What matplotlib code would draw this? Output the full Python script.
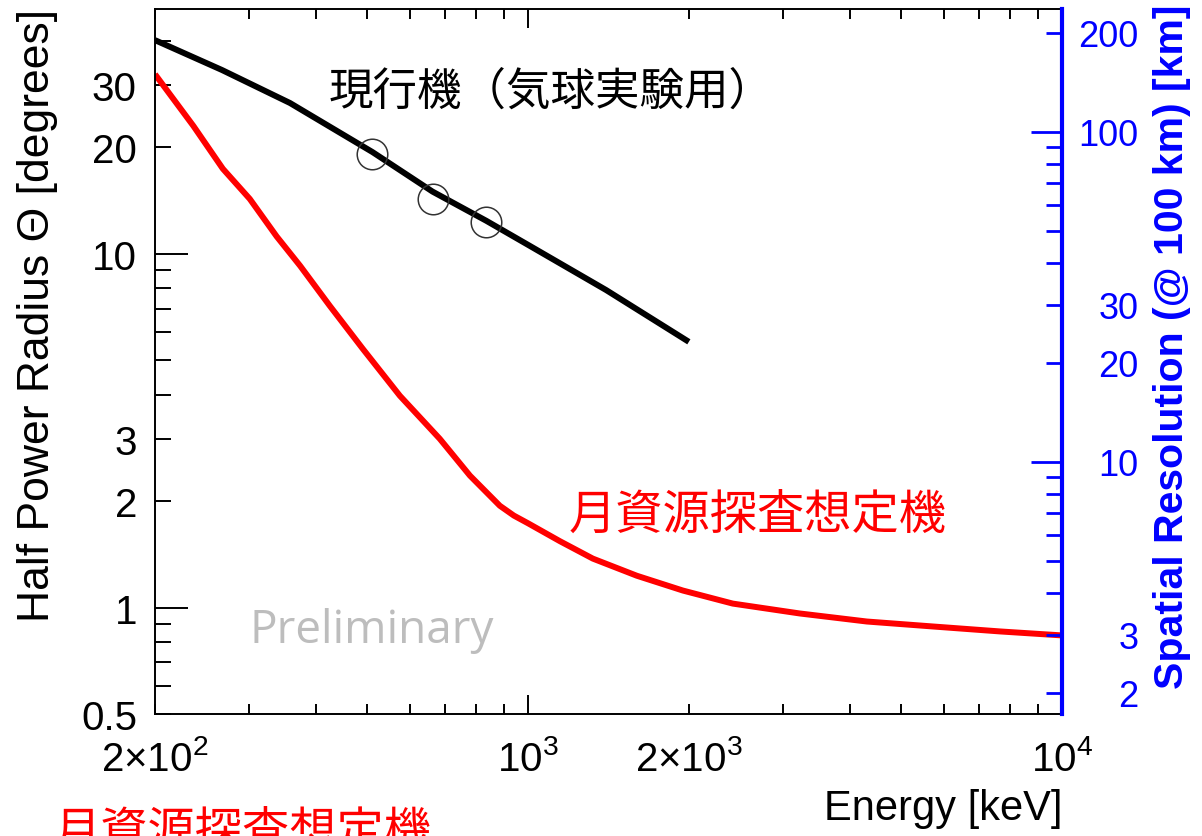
import numpy as np
import matplotlib
matplotlib.use('Agg')
import matplotlib.pyplot as plt
from matplotlib.ticker import LogLocator, FuncFormatter

plt.rcParams['font.family'] = ['Liberation Sans', 'DejaVu Sans']
plt.rcParams['mathtext.fontset'] = 'custom'
plt.rcParams['mathtext.rm'] = 'Liberation Sans'
plt.rcParams['mathtext.it'] = 'Liberation Sans:italic'
plt.rcParams['mathtext.bf'] = 'Liberation Sans:bold'

# current instrument (balloon experiment), energy in keV, HPR in degrees
energy_now = [200, 267, 358, 511, 662, 835, 1000, 1400, 2000]
hpr_now = [40.2, 33.1, 26.7, 19.4, 15.0, 12.4, 10.6, 7.9, 5.64]

# measured gamma lines
energy_meas = [511, 662, 835]
hpr_meas = [19.2, 14.3, 12.3]

# planned lunar resource instrument
energy_moon = [200, 236, 268, 301, 338, 374, 425, 490, 575, 683, 778, 885, 940, 1000,
               1147, 1322, 1598, 1949, 2417, 3228, 4309, 5728, 7645, 10000]
hpr_moon = [32.2, 23.0, 17.4, 14.3, 11.2, 9.25, 7.13, 5.39, 3.97, 3.00, 2.36, 1.94, 1.82, 1.73,
            1.54, 1.375, 1.23, 1.117, 1.026, 0.962, 0.913, 0.884, 0.856, 0.834]

# tick labels
x_labels = {200: r'$2{\times}10^{2}$', 1000: r'$10^{3}$', 2000: r'$2{\times}10^{3}$', 10000: r'$10^{4}$'}
y_labels = [0.5, 1, 2, 3, 10, 20, 30]
res_labels = [2, 3, 10, 20, 30, 100, 200]

W, H = 1202, 837


def fx(px):
    return px / W


def fy(py):
    return 1 - py / H


def pick(values, text=None):
    def f(v, pos):
        for t in values:
            if np.isclose(v, t, rtol=1e-6):
                if text is not None:
                    return text[t]
                return '%g' % t
        return ''
    return FuncFormatter(f)


fig = plt.figure(figsize=(W / 100, H / 100), dpi=100)
ax = fig.add_axes([fx(155), fy(715), fx(1062) - fx(155), fy(9.5) - fy(715)])

ax.plot(energy_now, hpr_now, color='black', lw=4.3, solid_capstyle='butt',
        solid_joinstyle='round')
ax.plot(energy_meas, hpr_meas, 'o', ms=22, mfc='none', mec='#333333', mew=1.1)
ax.plot(energy_moon, hpr_moon, color='red', lw=4.3, solid_capstyle='butt',
        solid_joinstyle='round')

ax.set_xscale('log')
ax.set_yscale('log')
ax.set_xlim(200, 10000)
ax.set_ylim(0.5, 49.4)

sub = np.arange(2, 10)
ax.xaxis.set_major_locator(LogLocator(base=10, numticks=20))
ax.xaxis.set_minor_locator(LogLocator(base=10, subs=sub, numticks=20))
ax.yaxis.set_major_locator(LogLocator(base=10, numticks=20))
ax.yaxis.set_minor_locator(LogLocator(base=10, subs=sub, numticks=20))
ax.xaxis.set_major_formatter(pick(list(x_labels), x_labels))
ax.xaxis.set_minor_formatter(pick(list(x_labels), x_labels))
ax.yaxis.set_major_formatter(pick(y_labels))
ax.yaxis.set_minor_formatter(pick(y_labels))

ax.tick_params(axis='y', which='major', direction='in', length=24, width=1.4,
               labelsize=29, pad=13, right=False)
ax.tick_params(axis='y', which='minor', direction='in', length=11.5, width=1.4,
               labelsize=29, pad=13, right=False)
ax.tick_params(axis='x', which='major', direction='in', length=14, width=1.4,
               labelsize=29, pad=18, top=True)
ax.tick_params(axis='x', which='minor', direction='in', length=7, width=1.4,
               labelsize=29, pad=18, top=True)
for s in ['left', 'bottom', 'top']:
    ax.spines[s].set_linewidth(1.4)
ax.spines['right'].set_visible(False)

# spatial resolution axis
ax2 = ax.twinx()
ax2.set_yscale('log')
ax2.set_ylim(1.723, 236.7)
ax2.yaxis.set_major_locator(LogLocator(base=10, numticks=20))
ax2.yaxis.set_minor_locator(LogLocator(base=10, subs=sub, numticks=20))
ax2.yaxis.set_major_formatter(pick(res_labels))
ax2.yaxis.set_minor_formatter(pick(res_labels))
ax2.tick_params(axis='y', which='major', direction='in', length=22, width=2,
                color='blue', labelcolor='blue', labelsize=26, pad=55)
ax2.tick_params(axis='y', which='minor', direction='in', length=11.5, width=2,
                color='blue', labelcolor='blue', labelsize=26, pad=55)
for s in ['left', 'bottom', 'top']:
    ax2.spines[s].set_visible(False)
ax2.spines['right'].set_color('blue')
ax2.spines['right'].set_linewidth(3)

# axis titles
fig.text(fx(1062), fy(820), 'Energy [keV]', ha='right', va='baseline', fontsize=30)
fig.text(fx(38), fy(316), 'Half Power Radius Θ [degrees]', rotation=90,
         ha='center', va='center', fontsize=32)
fig.text(fx(1172), fy(347), 'Spatial Resolution (@ 100 km) [km]', rotation=90,
         ha='center', va='center', fontsize=29.5, fontweight='bold', color='blue')

# annotations
jp = ['Noto Sans CJK JP', 'DejaVu Sans']
fig.text(fx(551), fy(92), '現行機（気球実験用）', ha='center', va='center',
         fontsize=32, family=jp, color='black')
fig.text(fx(758), fy(516), '月資源探査想定機', ha='center', va='center',
         fontsize=34, family=jp, color='red')
fig.text(fx(54), fy(808), '月資源探査想定機', ha='left', va='top',
         fontsize=34, family=jp, color='red')
fig.text(fx(250), fy(643), 'Preliminary', ha='left', va='baseline',
         fontsize=33, family=['Open Sans', 'DejaVu Sans'], color='#bdbdbd')

fig.canvas.draw()
for lbl in ax2.yaxis.get_ticklabels(which='both'):
    lbl.set_horizontalalignment('right')

fig.savefig('out.png', dpi=100)
